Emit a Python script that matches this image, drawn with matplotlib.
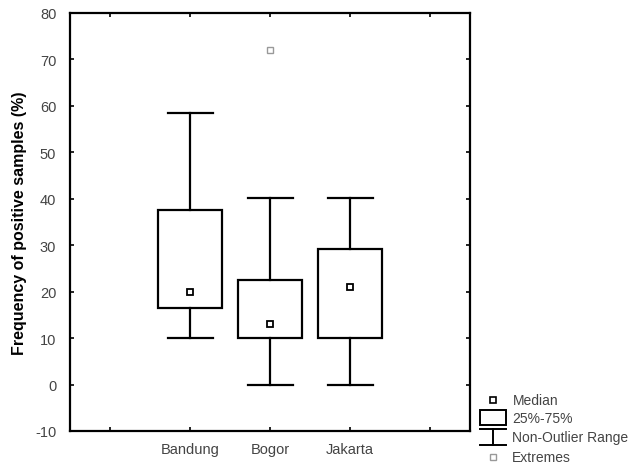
import matplotlib
matplotlib.use("Agg")
import matplotlib.pyplot as plt
from matplotlib.patches import Rectangle
from matplotlib.lines import Line2D

plt.rcParams["font.family"] = ["Liberation Sans", "DejaVu Sans"]
plt.rcParams["axes.unicode_minus"] = False

# values
cities = ["Bandung", "Bogor", "Jakarta"]
medians = [20.0, 13.1, 21.1]
q1 = [16.4, 10.1, 10.1]
q3 = [37.5, 22.6, 29.1]
whisk_lo = [10.1, 0.0, 0.0]
whisk_hi = [58.5, 40.1, 40.1]
extreme_pos = [2]
extreme_val = [72.0]

fig = plt.figure(figsize=(6.32, 4.64), dpi=100)
ax = fig.add_axes([0.111, 0.069, 0.633, 0.901])

box_w = 0.8
cap_w = 0.56
lw = 1.6
for i, name in enumerate(cities):
    x = i + 1
    ax.add_patch(Rectangle((x - box_w / 2, q1[i]), box_w, q3[i] - q1[i],
                           fill=False, edgecolor="black", linewidth=lw, zorder=2))
    ax.plot([x, x], [q3[i], whisk_hi[i]], color="black", lw=lw, zorder=2)
    ax.plot([x, x], [q1[i], whisk_lo[i]], color="black", lw=lw, zorder=2)
    ax.plot([x - cap_w / 2, x + cap_w / 2], [whisk_hi[i]] * 2, color="black", lw=lw, zorder=2)
    ax.plot([x - cap_w / 2, x + cap_w / 2], [whisk_lo[i]] * 2, color="black", lw=lw, zorder=2)
    ax.plot(x, medians[i], marker="s", ms=5, mfc="white", mec="black", mew=1.3, zorder=3)

ax.plot(extreme_pos, extreme_val, linestyle="none", marker="s", ms=5, mfc="white",
        mec="#999999", mew=1.0, zorder=3)

ax.set_xlim(-0.5, 4.5)
ax.set_ylim(-10, 80)
ax.set_xticks(range(5))
ax.set_xticklabels(["", *cities, ""])
ax.set_yticks(range(-10, 81, 10))
ax.tick_params(direction="in", top=True, right=True, length=3, width=1.2,
               labelsize=10.5, labelcolor="#444444", color="black")
ax.tick_params(axis="y", pad=10)
ax.tick_params(axis="x", pad=8)
for s in ax.spines.values():
    s.set_linewidth(1.6)
ax.set_ylabel("Frequency of positive samples (%)", fontsize=11.5, fontweight="bold", labelpad=6)

# legend drawn in figure pixel coords
W, H = 632, 464
def fx(px):
    return px / W
def fy(py):
    return 1 - py / H

tkw = dict(fontsize=10, color="#444444", va="center", ha="left")
fig.add_artist(Line2D([fx(493)], [fy(401)], marker="s", ms=4, mfc="white", mec="black", mew=1.2))
fig.text(fx(513), fy(401), "Median", **tkw)
fig.add_artist(Rectangle((fx(480), fy(426)), fx(506) - fx(480), fy(411) - fy(426),
                         fill=False, edgecolor="black", lw=1.4, transform=fig.transFigure))
fig.text(fx(512), fy(419), "25%-75%", **tkw)
fig.add_artist(Line2D([fx(480), fx(506)], [fy(430), fy(430)], color="black", lw=1.4))
fig.add_artist(Line2D([fx(493), fx(493)], [fy(430), fy(446)], color="black", lw=1.4))
fig.add_artist(Line2D([fx(480), fx(506)], [fy(446), fy(446)], color="black", lw=1.4))
fig.text(fx(512), fy(438), "Non-Outlier Range", **tkw)
fig.add_artist(Line2D([fx(493)], [fy(458)], marker="s", ms=4, mfc="white", mec="#999999", mew=1.0))
fig.text(fx(512), fy(458), "Extremes", **tkw)

fig.savefig("out.png", dpi=100)
